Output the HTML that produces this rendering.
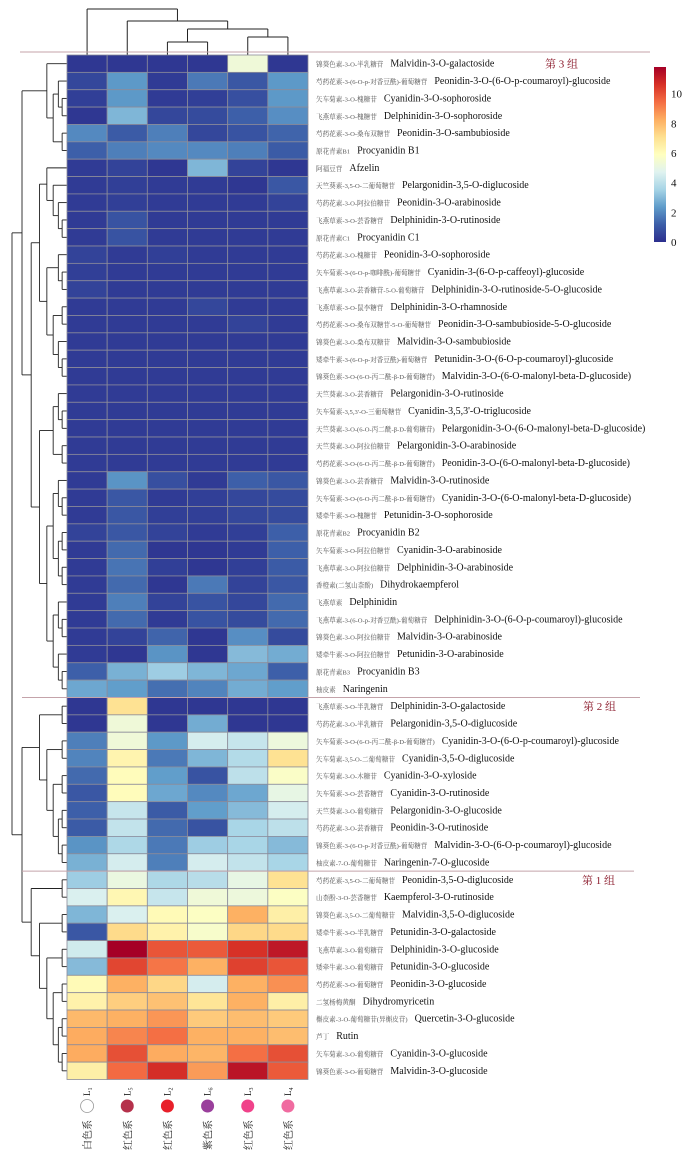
<!DOCTYPE html>
<html><head><meta charset="utf-8">
<style>
html,body{margin:0;padding:0;background:#fff;}
svg{display:block;}
</style></head>
<body>
<svg id="chart" width="700" height="1158" viewBox="0 0 700 1158" xmlns="http://www.w3.org/2000/svg">
<defs>
<linearGradient id="cbar" x1="0" y1="1" x2="0" y2="0">
<stop offset="0" stop-color="#2c2f8e"/><stop offset="0.1" stop-color="#3c5ea8"/><stop offset="0.2" stop-color="#5f9cca"/><stop offset="0.3" stop-color="#a6d4e6"/><stop offset="0.4" stop-color="#e0f3f0"/><stop offset="0.5" stop-color="#ffffbf"/><stop offset="0.6" stop-color="#fee090"/><stop offset="0.7" stop-color="#fdae61"/><stop offset="0.8" stop-color="#f46d43"/><stop offset="0.9" stop-color="#d73027"/><stop offset="1" stop-color="#a50026"/>
</linearGradient>
</defs>
<g id="dendro-top"></g>
<g id="dendro-left"></g>
<g id="cells"></g>
<g id="labels"></g>
<g id="groups"></g>
<g id="colorbar"></g>
<g id="collabels"></g>
</svg>
<script>
const columns = ["L1","L5","L2","L6","L3","L4"];
const colorGroups = ["白色系","红色系","红色系","紫色系","红色系","红色系"];
const dotColors = ["#ffffff","#b5314b","#e8202a","#9a3f9c","#f0428a","#f06ba0"];
const zhLabels = ["锦葵色素-3-O-半乳糖苷","芍药花素-3-(6-O-p-对香豆酰)-葡萄糖苷","矢车菊素-3-O-槐糖苷","飞燕草素-3-O-槐糖苷","芍药花素-3-O-桑布双糖苷","原花青素B1","阿福豆苷","天竺葵素-3,5-O-二葡萄糖苷","芍药花素-3-O-阿拉伯糖苷","飞燕草素-3-O-芸香糖苷","原花青素C1","芍药花素-3-O-槐糖苷","矢车菊素-3-(6-O-p-咖啡酰)-葡萄糖苷","飞燕草素-3-O-芸香糖苷-5-O-葡萄糖苷","飞燕草素-3-O-鼠李糖苷","芍药花素-3-O-桑布双糖苷-5-O-葡萄糖苷","锦葵色素-3-O-桑布双糖苷","矮牵牛素-3-(6-O-p-对香豆酰)-葡萄糖苷","锦葵色素-3-O-(6-O-丙二酰-β-D-葡萄糖苷)","天竺葵素-3-O-芸香糖苷","矢车菊素-3,5,3'-O-三葡萄糖苷","天竺葵素-3-O-(6-O-丙二酰-β-D-葡萄糖苷)","天竺葵素-3-O-阿拉伯糖苷","芍药花素-3-O-(6-O-丙二酰-β-D-葡萄糖苷)","锦葵色素-3-O-芸香糖苷","矢车菊素-3-O-(6-O-丙二酰-β-D-葡萄糖苷)","矮牵牛素-3-O-槐糖苷","原花青素B2","矢车菊素-3-O-阿拉伯糖苷","飞燕草素-3-O-阿拉伯糖苷","香橙素(二氢山柰酚)","飞燕草素","飞燕草素-3-(6-O-p-对香豆酰)-葡萄糖苷","锦葵色素-3-O-阿拉伯糖苷","矮牵牛素-3-O-阿拉伯糖苷","原花青素B3","柚皮素","飞燕草素-3-O-半乳糖苷","芍药花素-3-O-半乳糖苷","矢车菊素-3-O-(6-O-丙二酰-β-D-葡萄糖苷)","矢车菊素-3,5-O-二葡萄糖苷","矢车菊素-3-O-木糖苷","矢车菊素-3-O-芸香糖苷","天竺葵素-3-O-葡萄糖苷","芍药花素-3-O-芸香糖苷","锦葵色素-3-(6-O-p-对香豆酰)-葡萄糖苷","柚皮素-7-O-葡萄糖苷","芍药花素-3,5-O-二葡萄糖苷","山柰酚-3-O-芸香糖苷","锦葵色素-3,5-O-二葡萄糖苷","矮牵牛素-3-O-半乳糖苷","飞燕草素-3-O-葡萄糖苷","矮牵牛素-3-O-葡萄糖苷","芍药花素-3-O-葡萄糖苷","二氢杨梅黄酮","槲皮素-3-O-葡萄糖苷(异槲皮苷)","芦丁","矢车菊素-3-O-葡萄糖苷","锦葵色素-3-O-葡萄糖苷"];
const enLabels = ["Malvidin-3-O-galactoside","Peonidin-3-O-(6-O-p-coumaroyl)-glucoside","Cyanidin-3-O-sophoroside","Delphinidin-3-O-sophoroside","Peonidin-3-O-sambubioside","Procyanidin B1","Afzelin","Pelargonidin-3,5-O-diglucoside","Peonidin-3-O-arabinoside","Delphinidin-3-O-rutinoside","Procyanidin C1","Peonidin-3-O-sophoroside","Cyanidin-3-(6-O-p-caffeoyl)-glucoside","Delphinidin-3-O-rutinoside-5-O-glucoside","Delphinidin-3-O-rhamnoside","Peonidin-3-O-sambubioside-5-O-glucoside","Malvidin-3-O-sambubioside","Petunidin-3-O-(6-O-p-coumaroyl)-glucoside","Malvidin-3-O-(6-O-malonyl-beta-D-glucoside)","Pelargonidin-3-O-rutinoside","Cyanidin-3,5,3'-O-triglucoside","Pelargonidin-3-O-(6-O-malonyl-beta-D-glucoside)","Pelargonidin-3-O-arabinoside","Peonidin-3-O-(6-O-malonyl-beta-D-glucoside)","Malvidin-3-O-rutinoside","Cyanidin-3-O-(6-O-malonyl-beta-D-glucoside)","Petunidin-3-O-sophoroside","Procyanidin B2","Cyanidin-3-O-arabinoside","Delphinidin-3-O-arabinoside","Dihydrokaempferol","Delphinidin","Delphinidin-3-O-(6-O-p-coumaroyl)-glucoside","Malvidin-3-O-arabinoside","Petunidin-3-O-arabinoside","Procyanidin B3","Naringenin","Delphinidin-3-O-galactoside","Pelargonidin-3,5-O-diglucoside","Cyanidin-3-O-(6-O-p-coumaroyl)-glucoside","Cyanidin-3,5-O-diglucoside","Cyanidin-3-O-xyloside","Cyanidin-3-O-rutinoside","Pelargonidin-3-O-glucoside","Peonidin-3-O-rutinoside","Malvidin-3-O-(6-O-p-coumaroyl)-glucoside","Naringenin-7-O-glucoside","Peonidin-3,5-O-diglucoside","Kaempferol-3-O-rutinoside","Malvidin-3,5-O-diglucoside","Petunidin-3-O-galactoside","Delphinidin-3-O-glucoside","Petunidin-3-O-glucoside","Peonidin-3-O-glucoside","Dihydromyricetin","Quercetin-3-O-glucoside","Rutin","Cyanidin-3-O-glucoside","Malvidin-3-O-glucoside"];
const values = [
[0.2,0.2,0.2,0.2,5.3,0.2],[0.6,2.3,0.3,1.7,1.0,2.3],[0.4,2.3,0.3,0.4,0.8,2.3],[0.2,2.9,0.6,0.7,1.2,2.1],[2.0,1.1,1.8,0.6,0.9,1.3],[1.2,1.8,2.0,2.0,1.8,1.1],[0.3,0.5,0.2,2.9,0.5,0.2],[0.3,0.4,0.3,0.3,0.2,1.0],[0.3,0.4,0.3,0.3,0.3,0.5],[0.3,0.9,0.3,0.3,0.3,0.3],
[0.3,0.9,0.3,0.3,0.3,0.3],[0.5,0.3,0.4,0.3,0.3,0.3],[0.4,0.3,0.3,0.3,0.3,0.3],[0.5,0.3,0.3,0.3,0.3,0.3],[0.3,0.3,0.3,0.6,0.3,0.3],[0.3,0.3,0.3,0.3,0.5,0.3],[0.3,0.3,0.3,0.3,0.3,0.3],[0.3,0.3,0.3,0.3,0.3,0.3],[0.3,0.3,0.3,0.3,0.3,0.3],[0.3,0.3,0.3,0.3,0.3,0.3],
[0.3,0.3,0.3,0.3,0.3,0.3],[0.3,0.3,0.3,0.3,0.3,0.3],[0.3,0.3,0.3,0.3,0.3,0.3],[0.3,0.3,0.3,0.3,0.3,0.3],[0.3,2.2,0.8,0.3,1.2,1.0],[0.3,1.0,0.3,0.4,0.6,0.7],[0.3,1.0,0.4,0.4,0.6,0.7],[0.5,1.0,0.5,0.3,0.4,1.2],[0.3,1.4,0.2,0.2,0.3,1.2],[0.3,1.6,0.4,0.2,0.4,1.1],
[0.3,1.4,0.2,1.7,0.5,1.0],[0.3,1.8,0.5,0.9,0.6,1.4],[0.3,1.4,0.3,0.9,0.7,1.4],[0.3,0.5,1.3,0.2,2.1,0.7],[0.3,0.2,2.2,0.2,3.0,2.7],[1.2,2.8,3.4,2.9,2.6,1.2],[2.6,2.4,1.5,1.9,2.7,2.4],[0.2,7.0,0.2,0.2,0.2,0.2],[0.2,5.3,0.2,2.7,0.2,0.2],[1.8,5.3,2.3,4.5,4.2,5.2],
[1.9,6.3,1.7,2.9,3.8,7.0],[1.4,6.0,2.4,0.9,4.0,5.7],[1.0,6.0,2.6,2.0,2.6,5.0],[1.2,4.2,1.1,2.4,3.0,4.5],[1.1,4.1,1.4,0.9,3.6,4.0],[2.2,3.7,1.7,3.4,3.6,3.0],[2.8,4.5,1.8,4.5,4.1,3.6],[3.4,5.1,3.7,3.9,5.0,7.0],[4.6,6.2,4.2,5.3,5.2,5.8],[2.9,4.6,6.1,5.8,8.2,6.5],
[1.0,7.2,6.4,5.6,7.3,7.2],[4.4,11.8,9.9,9.8,10.6,11.2],[3.0,10.2,9.3,8.2,10.3,9.9],[6.1,8.2,7.3,4.5,8.2,8.8],[6.4,7.5,7.8,6.9,8.2,6.5],[8.0,8.2,8.7,7.6,7.9,7.6],[8.3,9.0,9.4,8.2,8.2,7.9],[8.3,10.0,8.3,8.1,9.4,10.0],[6.5,9.5,10.7,8.6,11.3,9.8]
];
const colorTicks = [0,2,4,6,8,10];
const groupNames = ["第 3 组","第 2 组","第 1 组"];
const groupStarts = [0,37,47];

const NS="http://www.w3.org/2000/svg";
const X0=67, X1=308, Y0=55, Y1=1079.5;
const nR=values.length, nC=columns.length;
const cw=(X1-X0)/nC, rh=(Y1-Y0)/nR;
const VMAX=11.8;
const stops=["#2c2f8e","#3c5ea8","#5f9cca","#a6d4e6","#e0f3f0","#ffffbf","#fee090","#fdae61","#f46d43","#d73027","#a50026"];
function hex(h){return [1,3,5].map(i=>parseInt(h.substr(i,2),16));}
function cmap(v){let t=Math.max(0,Math.min(1,v/VMAX))*(stops.length-1);let i=Math.min(Math.floor(t),stops.length-2);let f=t-i;let a=hex(stops[i]),b=hex(stops[i+1]);return "rgb("+a.map((x,k)=>Math.round(x+(b[k]-x)*f)).join(",")+")";}
function xC(c){return X0+c*cw;}
function yR(r){return Y0+r*rh;}
function mk(tag,attrs,parent){const e=document.createElementNS(NS,tag);for(const k in attrs)e.setAttribute(k,attrs[k]);parent.appendChild(e);return e;}
function line(p,x1,y1,x2,y2,col,w){return mk("line",{x1:x1,y1:y1,x2:x2,y2:y2,stroke:col||"#222",'stroke-width':w||1},p);}

const gc=document.getElementById("cells");
for(let r=0;r<nR;r++)for(let c=0;c<nC;c++){
  const rc=mk("rect",{x:xC(c),y:yR(r),width:cw,height:rh,fill:cmap(values[r][c]),stroke:"#8c8c9a","stroke-width":0.8},gc);
  
  
}

const gl=document.getElementById("labels");
for(let r=0;r<nR;r++){
  const y=yR(r)+rh/2+3;
  const z=mk("text",{x:316,y:y,'font-size':6.6,fill:"#555",'font-family':'"Liberation Serif","Noto Serif CJK SC",serif'},gl);
  z.textContent=zhLabels[r];
  
  
  let w=0;try{w=z.getComputedTextLength();}catch(e){w=zhLabels[r].length*6;}
  const t=mk("text",{x:316+w+7,y:y,'font-size':10,fill:"#111",'font-family':'"Liberation Serif",serif'},gl);
  t.textContent=enLabels[r];
  
  
}

const gg=document.getElementById("groups");
line(gg,20,52,650,52,"#c4a3aa",1);
const sepEnds=[null,640,634];
const titleX=[545,583,582];
for(let g=0;g<groupStarts.length;g++){
  if(g>0){const ln=line(gg,22,yR(groupStarts[g]),sepEnds[g],yR(groupStarts[g]),"#c4a3aa",1);
    
    }
  const t=mk("text",{x:titleX[g],y:yR(groupStarts[g])+rh/2+4,'font-size':11,fill:"#8b1a2b",'font-family':'"Liberation Serif","Noto Serif CJK SC",serif'},gg);
  t.textContent=groupNames[g];
  
  
}

const gcb=document.getElementById("colorbar");
const CB0=242, CBtop=67;
mk("rect",{x:654,y:CBtop,width:12,height:CB0-CBtop,fill:"url(#cbar)"},gcb);
for(const v of colorTicks){
  const y=CB0-(CB0-CBtop)*v/VMAX;
  const t=mk("text",{x:671,y:y+4,'font-size':11,fill:"#111",'font-family':'"Liberation Serif",serif'},gcb);
  t.textContent=v;
  
  
}

const gcl=document.getElementById("collabels");
for(let c=0;c<nC;c++){
  const cx=xC(c)+cw/2;
  const t=mk("text",{x:0,y:0,'font-size':9,fill:"#222",'font-family':'"Liberation Serif",serif',transform:"translate("+(cx+3)+",1096) rotate(-90)"},gcl);
  t.innerHTML=columns[c].charAt(0)+'<tspan font-size="6" dy="2">'+columns[c].slice(1)+'</tspan>';
  
  
  const d=mk("circle",{cx:cx,cy:1106,r:6.5,fill:dotColors[c],stroke:c===0?"#999":"none","stroke-width":0.8},gcl);
  
  
  const g=mk("text",{x:0,y:0,'font-size':10,fill:"#222",'font-family':'"Liberation Serif","Noto Serif CJK SC",serif',transform:"translate("+(cx+4)+",1150) rotate(-90)"},gcl);
  g.textContent=colorGroups[c];
  
  
}

const gt=document.getElementById("dendro-top");
function ccx(c){return xC(c)+cw/2;}
function ubr(xa,xb,ytop,ya,yb){line(gt,xa,ya,xa,ytop);line(gt,xb,yb,xb,ytop);line(gt,xa,ytop,xb,ytop);}
ubr(ccx(2),ccx(3),42,55,55);
ubr(ccx(4),ccx(5),37,55,55);
const m23=(ccx(2)+ccx(3))/2, m45=(ccx(4)+ccx(5))/2;
ubr(m23,m45,29,42,37);
const m2345=(m23+m45)/2;
ubr(ccx(1),m2345,21,55,29);
ubr(ccx(0),(ccx(1)+m2345)/2,9,55,21);

const g3a=[0,[[1,[2,3]],[4,5]]];
const g3b=[[[6,[7,[8,[9,10]]]],[[11,[12,13]],[[14,15],[16,[17,18]]]]],[[[19,[20,21]],[22,23]],[[[24,[25,26]],[[27,28],[29,30]]],[[31,[32,33]],[34,[35,36]]]]]];
const g2=[[37,38],[[39,40],[[41,42],[[43,44],[45,46]]]]];
const g1=[[47,48],[[49,50],[[51,52],[[53,54],[[55,56],[57,58]]]]]];
const tree=[[g3a,g3b],[g2,g1]];
function ht(n){return Array.isArray(n)?1+Math.max(ht(n[0]),ht(n[1])):0;}
const H=ht(tree);
const gd=document.getElementById("dendro-left");
function draw(n){
  if(!Array.isArray(n))return {y:yR(n)+rh/2,x:X0};
  const a=draw(n[0]),b=draw(n[1]);
  const h=ht(n);
  const x=X0-3-(X0-3-12)*Math.pow(h/H,1.6);
  line(gd,a.x,a.y,x,a.y,"#222",0.9);
  line(gd,b.x,b.y,x,b.y,"#222",0.9);
  line(gd,x,a.y,x,b.y,"#222",0.9);
  return {x:x,y:(a.y+b.y)/2};
}
draw(tree);
</script>
</body></html>
